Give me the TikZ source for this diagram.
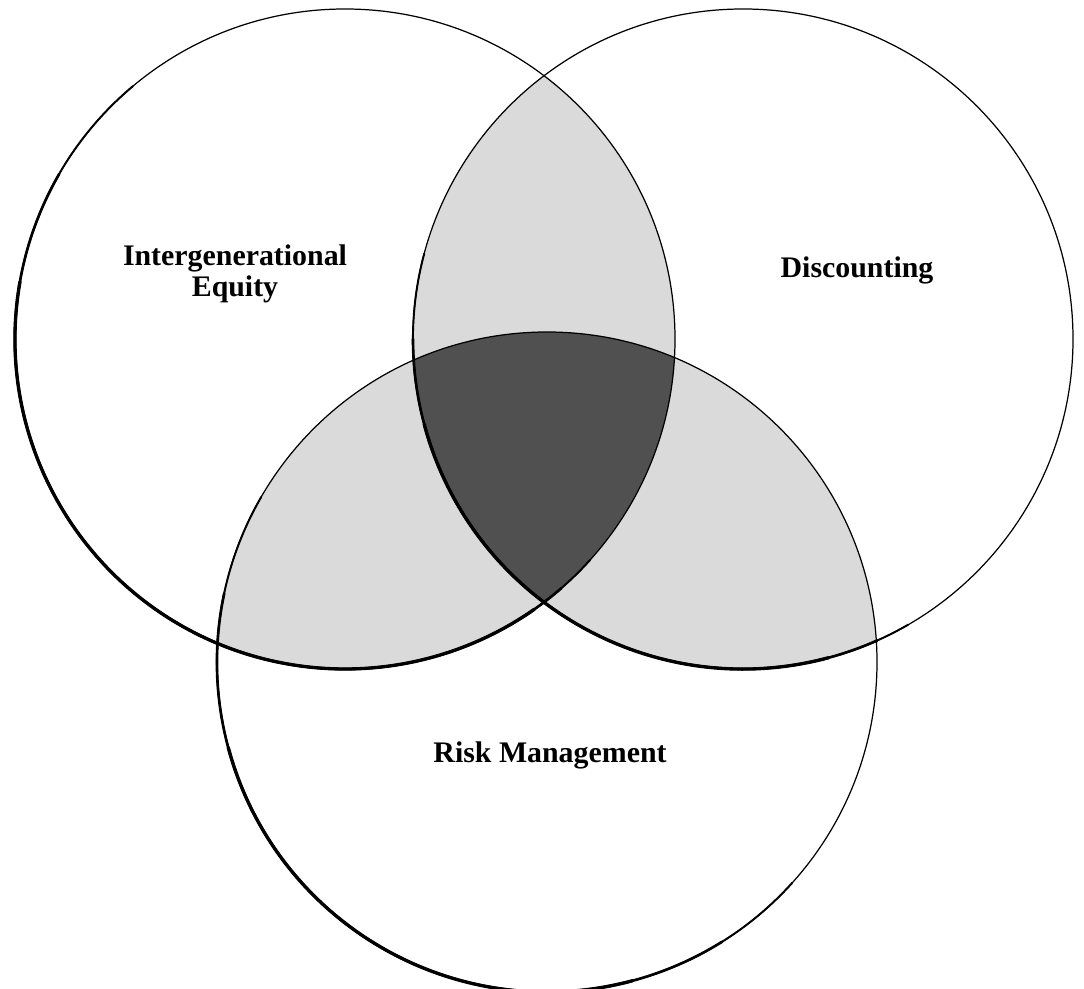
\documentclass[tikz,border=0pt]{standalone}
\usepackage{fontspec}
\setmainfont{Liberation Serif}
\usepackage{xcolor}
\usepackage{tikz}
\definecolor{lens}{HTML}{DADADA}
\definecolor{core}{HTML}{505050}

\begin{document}
\begin{tikzpicture}[
  x=0.02cm,y=0.02cm,
  ring/.style={draw=black,line width=0.7pt},
  heavy/.style={draw=black,line cap=round},
  lbl/.style={font=\fontsize{17}{18}\selectfont\bfseries,align=center,inner sep=0pt}]
\useasboundingbox (0,0) rectangle (1084,988);
% centres of the three sets
\coordinate (ie) at (345,649);
\coordinate (dc) at (743,649);
\coordinate (rm) at (547,326);
% pairwise overlaps, light
\begin{scope}
  \clip (ie) circle[radius=330];
  \fill[lens] (dc) circle[radius=330];
  \fill[lens] (rm) circle[radius=330];
\end{scope}
\begin{scope}
  \clip (dc) circle[radius=330];
  \fill[lens] (rm) circle[radius=330];
\end{scope}
% all three, dark
\begin{scope}
  \clip (ie) circle[radius=330];
  \clip (dc) circle[radius=330];
  \fill[core] (rm) circle[radius=330];
\end{scope}
% outlines
\draw[ring] (ie) circle[radius=330];
\draw[ring] (dc) circle[radius=330];
\draw[ring] (rm) circle[radius=330];
% lower arcs get heavier, tapering off at the ends
\foreach \w/\s/\e in {1.1/130/318, 1.5/150/311, 1.9/170/305}
  \draw[heavy,line width=\w pt] (ie) ++(\s:330) arc[start angle=\s,end angle=\e,radius=330];
\foreach \w/\s/\e in {1.1/165/300, 1.5/180/294, 1.9/195/285}
  \draw[heavy,line width=\w pt] (dc) ++(\s:330) arc[start angle=\s,end angle=\e,radius=330];
\foreach \w/\s/\e in {1.1/150/318, 1.5/168/302, 1.9/195/285}
  \draw[heavy,line width=\w pt] (rm) ++(\s:330) arc[start angle=\s,end angle=\e,radius=330];
% labels
\node[lbl] (equity) at (235,714) {Intergenerational\\Equity};
\node[lbl] (disc)   at (857,718) {Discounting};
\node[lbl] (risk)   at (550,233) {Risk Management};
\end{tikzpicture}
\end{document}
